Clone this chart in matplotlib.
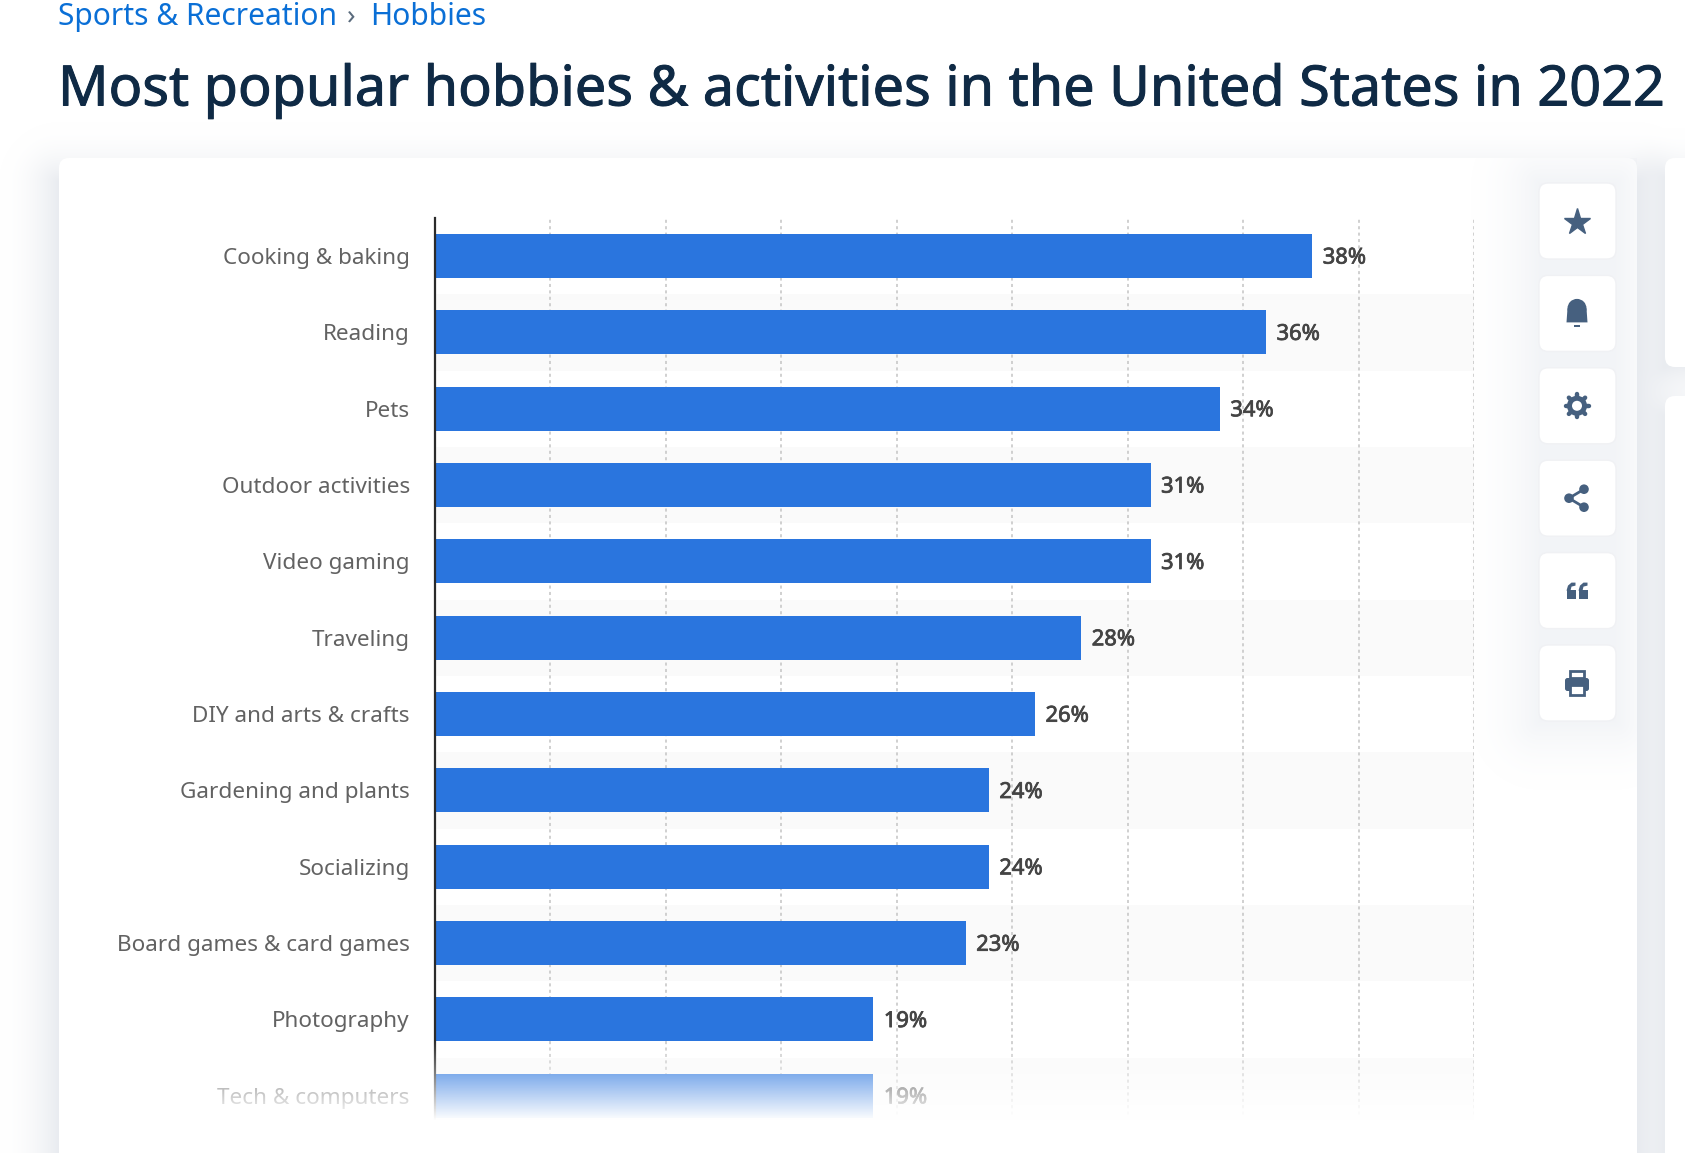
#!/usr/bin/env python3
"""Most popular hobbies bar chart, with the page around it."""

import numpy as np
import matplotlib
matplotlib.use('Agg')
import matplotlib.pyplot as plt
import matplotlib.patheffects as pe
from matplotlib.patches import Circle, FancyBboxPatch, Polygon, Rectangle

plt.rcParams['font.family'] = ['Noto Sans', 'DejaVu Sans']

W, H = 1685, 1153

categories = ['Cooking & baking', 'Reading', 'Pets', 'Outdoor activities', 'Video gaming',
              'Traveling', 'DIY and arts & crafts', 'Gardening and plants', 'Socializing',
              'Board games & card games', 'Photography', 'Tech & computers']
values = [38, 36, 34, 31, 31, 28, 26, 24, 24, 23, 19, 19]
x_ticks = [5, 10, 15, 20, 25, 30, 35, 40, 45]

BAR_BLUE = '#2a75de'
ICON = '#46607f'


def rect_dist(X, Y, x0, y0, x1, y1):
    dx = np.maximum(np.maximum(x0 - X, X - x1), 0)
    dy = np.maximum(np.maximum(y0 - Y, Y - y1), 0)
    return np.hypot(dx, dy)


def add_shadow(img, rect, reach, color, strength):
    d = rect_dist(XX, YY, *rect)
    a = (strength * np.clip(1 - d / reach, 0, 1) ** 2)[..., None]
    return img * (1 - a) + np.array(color) * a


# ------------------------------------------------------------
# Page background with soft shadows
# ------------------------------------------------------------
XX, YY = np.meshgrid(np.arange(W) + 0.5, np.arange(H) + 0.5)
bg = np.ones((H, W, 3))
shade = (0.875, 0.89, 0.915)
bg = add_shadow(bg, (59, 182, 1637, H + 100), 60, shade, 0.7)
bg = add_shadow(bg, (1665, 178, 1800, 367), 50, shade, 0.6)
bg = add_shadow(bg, (1665, 416, 1800, H + 100), 50, shade, 0.6)

fig = plt.figure(figsize=(W / 100, H / 100), dpi=100)
page = fig.add_axes([0, 0, 1, 1], zorder=0)
page.axis('off')
page.imshow(bg, extent=(0, W, H, 0), aspect='auto', zorder=0)

# cards
page.add_patch(FancyBboxPatch((59, 158), 1578, 1100, boxstyle='round,pad=0,rounding_size=10',
                              fc='white', ec='none', zorder=1))
page.add_patch(FancyBboxPatch((1665, 158), 80, 209, boxstyle='round,pad=0,rounding_size=10',
                              fc='white', ec='none', zorder=1))
page.add_patch(FancyBboxPatch((1665, 396), 80, 900, boxstyle='round,pad=0,rounding_size=10',
                              fc='white', ec='none', zorder=1))

# shadow thrown by the icon column onto the card
card_shadow = np.ones((H, W, 4))
card_shadow[..., :3] = (0.89, 0.905, 0.93)
dcol = rect_dist(XX, YY, 1539, 183, 1616, 722)
card_shadow[..., 3] = 0.42 * np.clip(1 - dcol / 75, 0, 1) ** 2
card_shadow[:158, :, 3] = 0
card_shadow[:, :59, 3] = 0
card_shadow[:, 1637:, 3] = 0
page.imshow(card_shadow, extent=(0, W, H, 0), aspect='auto', zorder=1.5)
page.set_xlim(0, W)
page.set_ylim(H, 0)

# ------------------------------------------------------------
# Header text
# ------------------------------------------------------------
page.text(58, 17, 'Sports & Recreation', color='#0a6fd6', fontsize=21.6, va='center', zorder=3)
page.text(347, 18, '›', color='#5a6b7d', fontsize=20, va='center', zorder=3)
page.text(370, 17, 'Hobbies', color='#0a6fd6', fontsize=21.6, va='center', zorder=3)
title = page.text(58, 91, 'Most popular hobbies & activities in the United States in 2022',
                  color='#0f2a45', fontsize=40.15, va='center', zorder=3)
title.set_path_effects([pe.withStroke(linewidth=0.7, foreground='#0f2a45')])

# ------------------------------------------------------------
# Icon buttons
# ------------------------------------------------------------
for i in range(6):
    top = 183 + i * 92.4
    page.add_patch(FancyBboxPatch((1539, top), 77, 76, boxstyle='round,pad=0,rounding_size=9',
                                  fc='white', ec='#f0f1f4', lw=1, zorder=2))
cx = 1577
ys = [183 + 38 + i * 92.4 for i in range(6)]
# star
page.plot([cx], [ys[0] + 1], marker='*', ms=20, color=ICON, mec=ICON, zorder=3)
# bell
y = ys[1]
page.add_patch(Circle((cx, y - 5), 9.5, fc=ICON, zorder=3))
page.add_patch(Polygon([(cx - 9.5, y - 5), (cx + 9.5, y - 5), (cx + 10.5, y + 9), (cx - 10.5, y + 9)],
                       fc=ICON, zorder=3))
page.add_patch(Rectangle((cx - 3, y + 12), 6, 2, fc=ICON, zorder=3))
# gear
y = ys[2]
for a in np.arange(8) * np.pi / 4:
    page.plot([cx, cx + 11.5 * np.cos(a)], [y, y + 11.5 * np.sin(a)],
              color=ICON, lw=3.2, zorder=3, solid_capstyle='round')
page.add_patch(Circle((cx, y), 10, fc=ICON, zorder=3))
page.add_patch(Circle((cx, y), 5, fc='white', zorder=4))
# share
y = ys[3]
pts = [(cx - 8, y), (cx + 7, y - 9), (cx + 7, y + 9)]
for p in pts[1:]:
    page.plot([pts[0][0], p[0]], [pts[0][1], p[1]], color=ICON, lw=2, zorder=3)
for p in pts:
    page.add_patch(Circle(p, 4.8, fc=ICON, zorder=3))
# quote marks
y = ys[4]
for dx in (-10.5, 1.5):
    page.add_patch(Rectangle((cx + dx, y - 1), 9, 9, fc=ICON, zorder=3))
    page.add_patch(Polygon([(cx + dx, y), (cx + dx + 1.5, y - 5), (cx + dx + 5, y - 8), (cx + dx + 9, y - 8),
                            (cx + dx + 9, y - 5), (cx + dx + 5, y - 4), (cx + dx + 4, y)],
                           fc=ICON, zorder=3))
# printer
y = ys[5]
page.add_patch(FancyBboxPatch((cx - 12, y - 5), 24, 13, boxstyle='round,pad=0,rounding_size=2.5',
                              fc=ICON, ec='none', zorder=3))
page.add_patch(Rectangle((cx - 7, y - 12), 14, 7, fc='white', ec=ICON, lw=2, zorder=3))
page.add_patch(Rectangle((cx - 7, y + 2), 14, 10, fc='white', ec=ICON, lw=2, zorder=4))

# ------------------------------------------------------------
# Chart
# ------------------------------------------------------------
ax_l, ax_r = 434.5, 1474
row_h = 76.35
ax_top = 217.8
ax_bot = ax_top + row_h * len(categories)
ax = fig.add_axes([ax_l / W, 1 - ax_bot / H, (ax_r - ax_l) / W, (ax_bot - ax_top) / H], zorder=1)
ax.patch.set_alpha(0)

y_pos = np.arange(len(categories))
for i in y_pos[1::2]:
    ax.axhspan(i - 0.5, i + 0.5, color='#fafafa', lw=0, zorder=0)
for t in x_ticks:
    ax.axvline(t, color='#c4c4c4', lw=1.1, ls=(0, (2, 2.2)), zorder=1)
bars = ax.barh(y_pos, values, height=44 / row_h, color=BAR_BLUE, zorder=2)
labels = ax.bar_label(bars, labels=[f'{v}%' for v in values], padding=8, fontsize=15.8,
                      color='#444444')
for lab in labels:
    lab.xyann = (7.5, -1.5)
    lab.set_path_effects([pe.withStroke(linewidth=0.55, foreground='#444444')])

ax.set_xlim(0, 45)
ax.set_ylim(len(categories) - 0.5, -0.5)
ax.set_xticks([])
ax.set_yticks(y_pos)
ax.set_yticklabels(categories, fontsize=16.2, color='#626262')
ax.tick_params(axis='y', length=0, pad=17.8)
for side in ['top', 'right', 'bottom']:
    ax.spines[side].set_visible(False)
ax.spines['left'].set_color('#2b2b2b')
ax.spines['left'].set_linewidth(1.6)

# ------------------------------------------------------------
# White fade over the last row
# ------------------------------------------------------------
fade = fig.add_axes([0, 0, 1, 1], zorder=2)
fade.axis('off')
fade.patch.set_alpha(0)
ramp = np.interp(np.arange(H) + 0.5, [1040, 1074, 1120], [0.0, 0.4, 1.0])
overlay = np.ones((H, 1, 4))
overlay[:, 0, 3] = ramp
fade.imshow(overlay, extent=(62, 1530, H, 0), aspect='auto')
fade.set_xlim(0, W)
fade.set_ylim(H, 0)

plt.savefig('out.png', dpi=100)
plt.close()
